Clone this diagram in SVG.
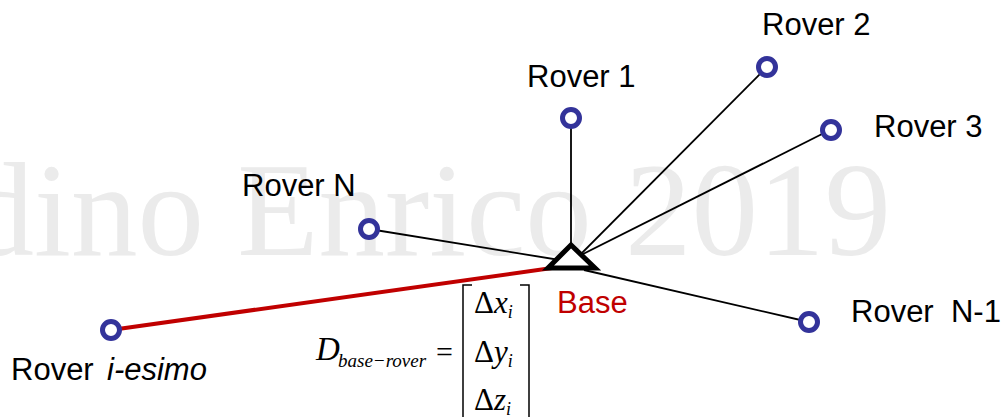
<svg xmlns="http://www.w3.org/2000/svg" width="1003" height="417" viewBox="0 0 1003 417">
<style>
.lbl{font-family:"Liberation Sans",Arial,sans-serif;font-size:31px;fill:#000}
.rover{fill:#fff;stroke:#33339a;stroke-width:5}
.conn{stroke:#000;stroke-width:1.8;fill:none}
.math{font-family:"Liberation Serif","Times New Roman",serif;fill:#000}
.wm{font-family:"Liberation Serif","Times New Roman",serif;font-size:133px;fill:#ebebeb}
</style>
<rect width="1003" height="417" fill="#fff"/>
<text class="wm" x="891" y="255" text-anchor="end">dino Enrico 2019</text>
<g id="connectors">
<line class="conn" x1="571" y1="118" x2="571" y2="250"/>
<line class="conn" x1="767" y1="67" x2="579" y2="256"/>
<line class="conn" x1="830" y1="130" x2="579" y2="256"/>
<line class="conn" x1="369" y1="229" x2="572" y2="262"/>
<line class="conn" x1="584" y1="270" x2="809" y2="322"/>
<line x1="111" y1="330" x2="552" y2="268" stroke="#c00000" stroke-width="4"/>
</g>
<g id="base">
<polygon points="571,245 548,268 595,268" fill="#fff" stroke="#000" stroke-width="5" stroke-linejoin="miter"/>
<text class="lbl" x="557" y="313" style="fill:#c00000">Base</text>
</g>
<g id="rover1">
<circle class="rover" cx="571" cy="118" r="8.5"/>
<text class="lbl" x="527" y="87">Rover 1</text>
</g>
<g id="rover2">
<circle class="rover" cx="767" cy="67" r="8.5"/>
<text class="lbl" x="762" y="35">Rover 2</text>
</g>
<g id="rover3">
<circle class="rover" cx="831" cy="130" r="8.5"/>
<text class="lbl" x="874" y="137">Rover 3</text>
</g>
<g id="roverN">
<circle class="rover" cx="369" cy="229" r="8.5"/>
<text class="lbl" x="242" y="196">Rover N</text>
</g>
<g id="roverN1">
<circle class="rover" cx="809" cy="322" r="8.5"/>
<text class="lbl" x="851" y="322" xml:space="preserve">Rover  N-1</text>
</g>
<g id="roverI">
<circle class="rover" cx="111" cy="330" r="8.5"/>
<text class="lbl" x="11" y="380">Rover <tspan x="107" font-style="italic">i-esimo</tspan></text>
</g>
<g id="equation">
<text class="math" x="316" y="360" font-size="33" font-style="italic">D</text>
<text class="math" x="338" y="367" font-size="19" font-style="italic">base−rover</text>
<text class="math" x="436" y="362" font-size="30">=</text>
<path d="M472,285 H463 V417 M520,285 H529 V417" fill="none" stroke="#000" stroke-width="1.5"/>
<text class="math" x="474" y="313" font-size="31">Δ<tspan font-style="italic">x</tspan><tspan font-style="italic" font-size="18" dy="5">i</tspan></text>
<text class="math" x="474" y="362" font-size="31">Δ<tspan font-style="italic">y</tspan><tspan font-style="italic" font-size="18" dy="5">i</tspan></text>
<text class="math" x="474" y="410" font-size="31">Δ<tspan font-style="italic">z</tspan><tspan font-style="italic" font-size="18" dy="5">i</tspan></text>
</g>
</svg>
